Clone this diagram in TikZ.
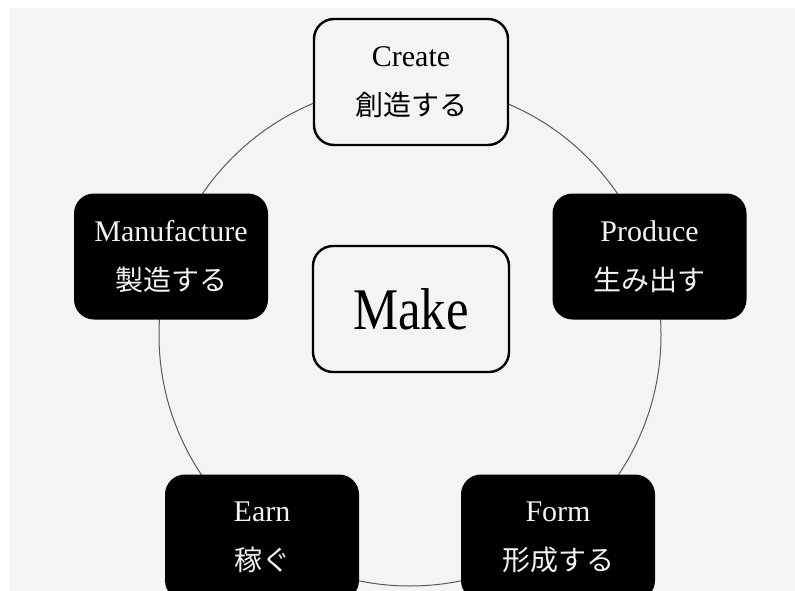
\documentclass[tikz,border=0pt]{standalone}
\usepackage{fontspec}
\setmainfont{Liberation Serif}
\newfontfamily\jp{Noto Sans CJK JP}
\definecolor{paper}{RGB}{244,244,244}
\definecolor{ring}{RGB}{90,90,90}
\tikzset{
  basebox/.style={rounded corners=20pt, minimum width=194pt, minimum height=126pt,
    align=center, inner sep=0pt, font=\fontsize{30}{49}\selectfont},
  whitebox/.style={basebox, draw=black, line width=2.4pt, fill=paper, text=black},
  blackbox/.style={basebox, fill=black, text=white!95!black},
}
\newcommand{\jpline}[1]{{\jp\fontsize{28}{49}\selectfont #1}}
\begin{document}
\begin{tikzpicture}[x=1pt,y=-1pt]
\useasboundingbox (0,0) rectangle (795,591);
\fill[white] (0,0) rectangle (795,591);
\fill[paper] (10,8) rectangle (795,591);
\coordinate (c) at (410,335);
\draw[ring, line width=1pt] (c) circle[radius=251pt];
\node[whitebox] (create) at (411,82) {Create\\\jpline{創造する}};
\node[blackbox] (manu) at (171,256.5) {Manufacture\\\jpline{製造する}};
\node[blackbox] (prod) at (649.5,256.5) {Produce\\\jpline{生み出す}};
\node[blackbox] (earn) at (262,537.5) {Earn\\\jpline{稼ぐ}};
\node[blackbox] (form) at (558,537.5) {Form\\\jpline{形成する}};
\node[whitebox, minimum width=196pt, minimum height=126pt, font=\fontsize{59}{60}\selectfont] (make) at (411,309) {\scalebox{0.86}[1]{Make}};
\end{tikzpicture}
\end{document}
